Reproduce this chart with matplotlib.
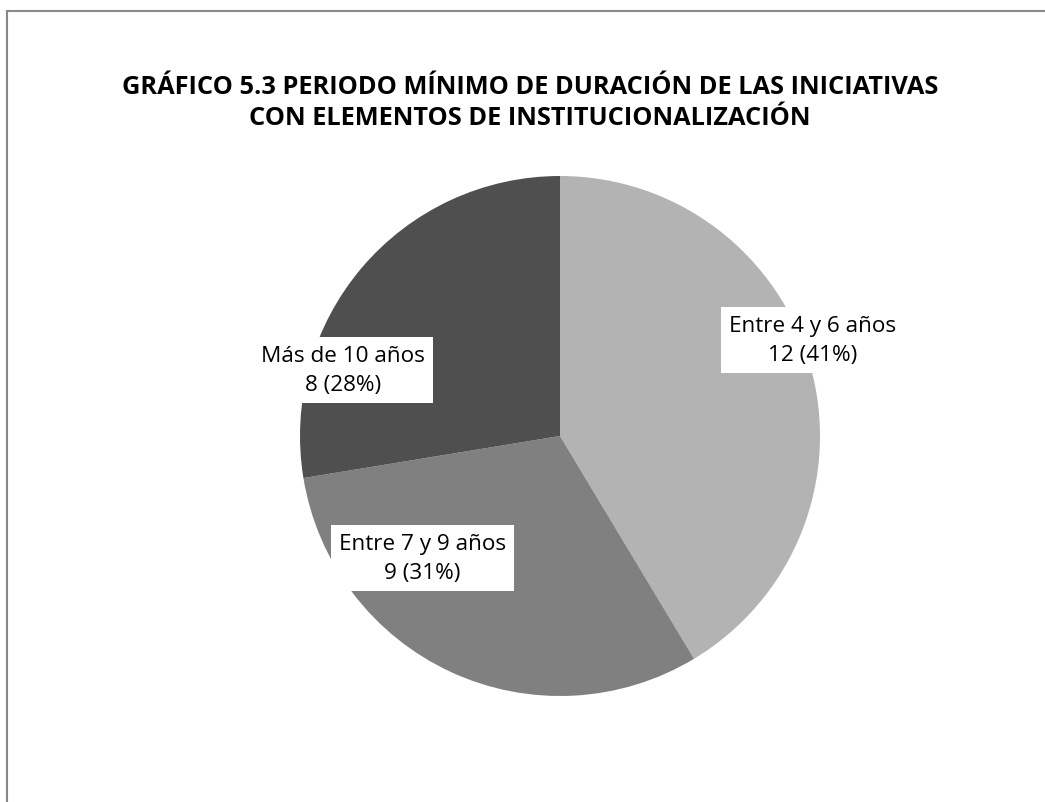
import matplotlib.pyplot as plt
from matplotlib.patches import Rectangle

categorias = ['Entre 4 y 6 años', 'Entre 7 y 9 años', 'Más de 10 años']
valores = [12, 9, 8]
colores = ['#b3b3b3', '#808080', '#4f4f4f']
# posiciones de las etiquetas (como en el original, ajuste "mejor")
pos_etiquetas = [(0.97, 0.37), (-0.53, -0.47), (-0.835, 0.255)]

titulo = 'GRÁFICO 5.3 PERIODO MÍNIMO DE DURACIÓN DE LAS INICIATIVAS\nCON ELEMENTOS DE INSTITUCIONALIZACIÓN'

plt.rcParams['font.family'] = ['Open Sans', 'DejaVu Sans']

fig = plt.figure(figsize=(10.45, 8.03), dpi=100)
fig.patches.append(Rectangle((7 / 1045, -0.1), 1.2, 1.1 - 12 / 803, transform=fig.transFigure,
                             fill=False, edgecolor='#888888', linewidth=1.5))
fig.text(530 / 1045, 1 - 103 / 803, titulo, ha='center', va='center', fontsize=18.3,
         fontweight='bold', linespacing=1.28)

ax = fig.add_axes([300 / 1045, 106 / 803, 520 / 1045, 520 / 803])
ax.pie(valores, colors=colores, startangle=90, counterclock=False,
       wedgeprops={'linewidth': 0})
ax.set_xlim(-1, 1)
ax.set_ylim(-1, 1)
ax.set_aspect('equal')

total = sum(valores)
for cat, v, (x, y) in zip(categorias, valores, pos_etiquetas):
    ax.text(x, y, f'{cat}\n{v} ({round(100 * v / total)}%)', ha='center', va='center',
            fontsize=16.2, linespacing=1.5,
            bbox=dict(boxstyle='square,pad=0.35', facecolor='white', edgecolor='none'))

fig.savefig('out.png', dpi=100)
